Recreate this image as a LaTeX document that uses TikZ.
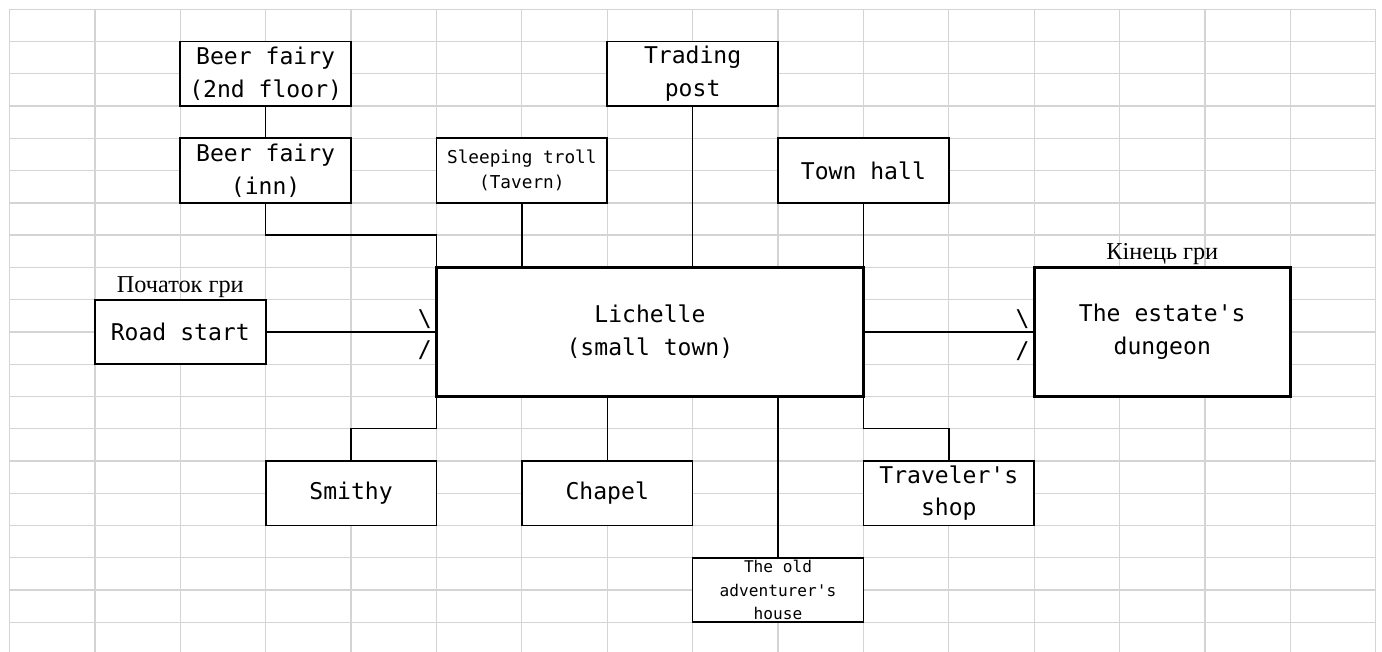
\documentclass[tikz,border=0pt]{standalone}
\usepackage{fontspec}
\newfontfamily\cellfont{DejaVu Sans Mono}
\newfontfamily\notefont{Liberation Serif}
\definecolor{sheetgray}{HTML}{D4D4D4}
\tikzset{
  gridline/.style={draw=sheetgray, line width=0.95pt},
  room/.style={draw, fill=white, line width=1.3pt, inner sep=0pt, outer sep=0pt,
    align=center, minimum width=128.08pt, minimum height=48.39pt,
    font=\cellfont\fontsize{17.3}{24.5}\selectfont},
  bigroom/.style={room, line width=2pt},
  link/.style={line width=1.1pt},
  tip/.style={inner xsep=3.6pt, inner ysep=0pt, outer sep=0pt, anchor=east,
    font=\cellfont\fontsize{17.3}{24}\selectfont},
  note/.style={inner sep=0pt, anchor=base, font=\notefont\fontsize{18.2}{20}\selectfont},
}
\begin{document}
\begin{tikzpicture}[x=64.04pt, y=-24.195pt]
  \useasboundingbox (-0.111,-0.288) rectangle (16.073,19.892);

  %%grid
  \foreach \c in {0,...,16}
    \draw[gridline] (\c,0) -- (\c,19.95);
  \foreach \r in {0,...,19}
    \draw[gridline] (0,\r) -- (16,\r);

  %%top
  \node[room] (beertop) at (3,2) {Beer fairy\\(2nd floor)};
  \node[room] (beerinn) at (3,5) {Beer fairy\\(inn)};
  \node[room, font=\cellfont\fontsize{13.3}{18.75}\selectfont] (troll) at (6,5) {Sleeping troll\\(Tavern)};
  \node[room] (trading) at (8,2) {Trading\\post};
  \node[room] (townhall) at (10,5) {Town hall};

  %%centre
  \node[bigroom, minimum width=320.2pt, minimum height=96.78pt] (lichelle) at (7.5,10) {Lichelle\\(small town)};
  \node[bigroom, line width=1.7pt] (road) at (2,10) {Road start};
  \node[bigroom, minimum width=192.12pt, minimum height=96.78pt] (dungeon) at (13.5,10) {The estate's\\dungeon};
  \node[note] (startnote) at (2,8.77) {Початок гри};
  \node[note] (endnote) at (13.5,7.75) {Кінець гри};

  %%bottom
  \node[room] (smithy) at (4,15) {Smithy};
  \node[room] (chapel) at (7,15) {Chapel};
  \node[room] (shop) at (11,15) {Traveler's\\shop};
  \node[room, font=\cellfont\fontsize{12.1}{17.6}\selectfont] (oldhouse) at (9,18) {The old\\adventurer's\\house};

  %%links
  \draw[link] (beertop) -- (beerinn);
  \draw[link] (beerinn.south) -- ++(0,1) -| (lichelle.north west);
  \draw[link] (troll) -- (troll |- lichelle.north);
  \draw[link] (trading) -- (trading |- lichelle.north);
  \draw[link] (townhall) -- (townhall |- lichelle.north);
  \draw[link, line width=1.6pt] (road) -- (lichelle);
  \draw[link] (lichelle) -- (dungeon);
  \draw[link] (lichelle.south west) -- ++(0,1) -| (smithy.north);
  \draw[link] (chapel) -- (chapel |- lichelle.south);
  \draw[link] (oldhouse) -- (oldhouse |- lichelle.south);
  \draw[link] (lichelle.south east) -- ++(0,1) -| (shop.north);

  %%arrow marks
  \node[tip] (roadup) at (5,9.59) {\textbackslash};
  \node[tip] (roaddown) at (5,10.56) {/};
  \node[tip] (endup) at (12,9.59) {\textbackslash};
  \node[tip] (enddown) at (12,10.6) {/};
\end{tikzpicture}
\end{document}
